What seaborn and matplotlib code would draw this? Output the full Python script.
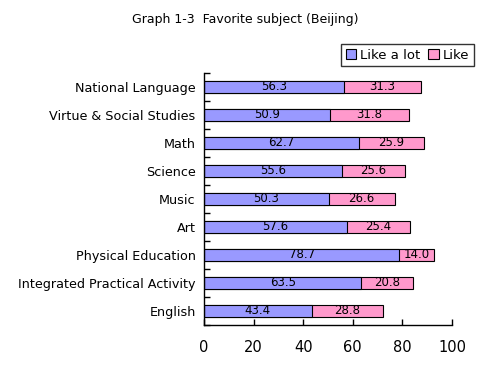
import matplotlib
matplotlib.use("Agg")
import matplotlib.pyplot as plt
import numpy as np
import pandas as pd
import seaborn as sns

# Datos
subjects = ["National Language", "Virtue & Social Studies", "Math", "Science", "Music",
            "Art", "Physical Education", "Integrated Practical Activity", "English"]
like_a_lot = [56.3, 50.9, 62.7, 55.6, 50.3, 57.6, 78.7, 63.5, 43.4]
like = [31.3, 31.8, 25.9, 25.6, 26.6, 25.4, 14.0, 20.8, 28.8]

BLUE = "#9999FF"
PINK = "#FF99CC"

df = pd.DataFrame({"Subject": subjects, "Like a lot": like_a_lot, "Like": like})
df["Total"] = df["Like a lot"] + df["Like"]

sns.set_style("white")
plt.rcParams["font.family"] = ["DejaVu Sans"]
plt.rcParams["text.color"] = "black"
plt.rcParams["xtick.color"] = "black"
plt.rcParams["ytick.color"] = "black"

fig = plt.figure(figsize=(4.81, 3.75), dpi=100)
ax = fig.add_axes([204 / 481, 50 / 375, 248 / 481, 252 / 375])

# barra total (rosa) por detrás, "Like a lot" (azul) por delante
sns.barplot(data=df, y="Subject", x="Total", color=PINK, edgecolor="black",
            linewidth=0.8, width=0.4, saturation=1, ax=ax, label="Like")
sns.barplot(data=df, y="Subject", x="Like a lot", color=BLUE, edgecolor="black",
            linewidth=0.8, width=0.4, saturation=1, ax=ax, label="Like a lot")
handles, labels = ax.get_legend_handles_labels()
if ax.legend_ is not None:
    ax.legend_.remove()

for i, (a, b) in enumerate(zip(like_a_lot, like)):
    ax.text(a / 2, i, f"{a:.1f}", ha="center", va="center", fontsize=8.5)
    ax.text(a + b / 2, i, f"{b:.1f}", ha="center", va="center", fontsize=8.5)

ax.set_xlim(0, 100)
ax.set_ylim(len(subjects) - 0.5, -0.5)
ax.set_xticks(np.arange(0, 101, 20))
ax.set_xlabel("")
ax.set_ylabel("")
ax.set_yticks(np.arange(len(subjects)))
ax.set_yticklabels(subjects, fontsize=9.2)
ax.tick_params(axis="y", which="major", left=True, length=0, pad=6)
ax.set_yticks(np.arange(-0.5, len(subjects), 1), minor=True)
ax.tick_params(axis="y", which="minor", left=True, direction="in", length=4, width=1)
ax.tick_params(axis="x", bottom=True, direction="in", length=4, width=1, pad=11, labelsize=10.5)
for s in ["top", "right"]:
    ax.spines[s].set_visible(False)
for s in ["left", "bottom"]:
    ax.spines[s].set_color("black")
    ax.spines[s].set_linewidth(1)

order = [labels.index("Like a lot"), labels.index("Like")]
leg = fig.legend([handles[k] for k in order], [labels[k] for k in order],
                 loc="upper right", bbox_to_anchor=(474 / 481, 1 - 44 / 375),
                 ncol=2, frameon=True, fancybox=False, fontsize=9.5,
                 handlelength=0.8, handleheight=0.8, handletextpad=0.3,
                 columnspacing=0.6, borderpad=0.35, borderaxespad=0)
leg.get_frame().set_edgecolor("black")
leg.get_frame().set_linewidth(1)

fig.text(245 / 481, 1 - 19 / 375, "Graph 1-3  Favorite subject (Beijing)",
         ha="center", va="center", fontsize=9)

fig.savefig("out.png", dpi=100)
